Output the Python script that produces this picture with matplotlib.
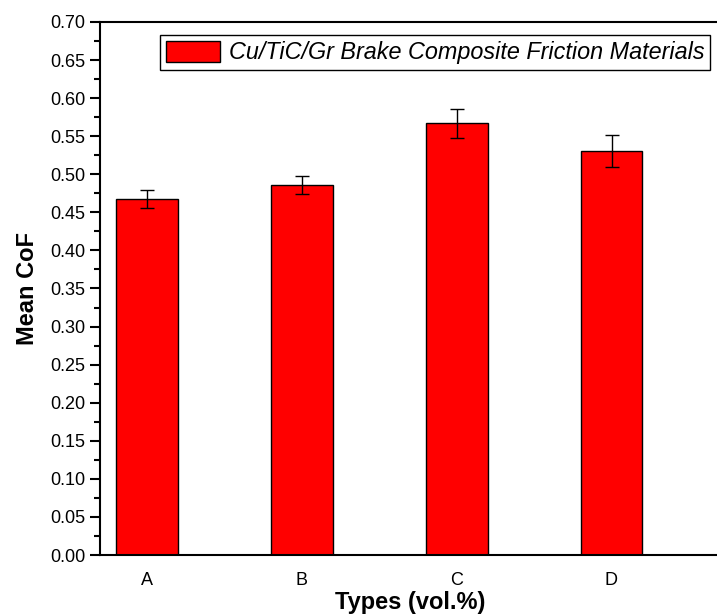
import matplotlib
matplotlib.use("Agg")
import matplotlib.pyplot as plt
from matplotlib.ticker import MultipleLocator, FormatStrFormatter

plt.rcParams["font.family"] = ["Liberation Sans", "DejaVu Sans"]

# data
types = ["A", "B", "C", "D"]
mean_cof = [0.468, 0.486, 0.567, 0.530]
cof_err = [0.012, 0.012, 0.019, 0.021]

fig = plt.figure(figsize=(7.17, 6.14), dpi=100)
# right edge sits just past the image, like the cropped original
ax = fig.add_axes([100 / 717, 59 / 614, 620 / 717, 533 / 614])

x = range(1, len(types) + 1)
ax.bar(x, mean_cof, width=0.4, color="#ff0000", edgecolor="black", linewidth=1.0,
       yerr=cof_err, capsize=5, error_kw=dict(ecolor="black", elinewidth=1.0, capthick=1.0),
       label="Cu/TiC/Gr Brake Composite Friction Materials")

ax.set_xlim(0.7, 4.7)
ax.set_ylim(0, 0.70)
ax.set_xticks(list(x))
ax.set_xticklabels(types)
ax.yaxis.set_major_locator(MultipleLocator(0.05))
ax.yaxis.set_minor_locator(MultipleLocator(0.025))
ax.yaxis.set_major_formatter(FormatStrFormatter("%.2f"))
ax.tick_params(axis="y", which="major", direction="out", length=7, width=1.5, labelsize=13)
ax.tick_params(axis="y", which="minor", direction="out", length=4, width=1.5)
ax.tick_params(axis="x", length=0, labelsize=13, pad=12)
for s in ax.spines.values():
    s.set_linewidth(1.5)

ax.set_ylabel("Mean CoF", fontsize=17, fontweight="bold", labelpad=8)
ax.set_xlabel("Types (vol.%)", fontsize=17, fontweight="bold", labelpad=2)

leg = ax.legend(loc="upper left", bbox_to_anchor=(0.097, 0.976), borderaxespad=0,
                fancybox=False, edgecolor="black", framealpha=1,
                handlelength=2.3, handleheight=1.0, borderpad=0.25, handletextpad=0.4,
                prop=dict(family="Liberation Sans", style="italic", size=16.8))
leg.get_frame().set_linewidth(1.0)

fig.savefig("out.png", dpi=100)
